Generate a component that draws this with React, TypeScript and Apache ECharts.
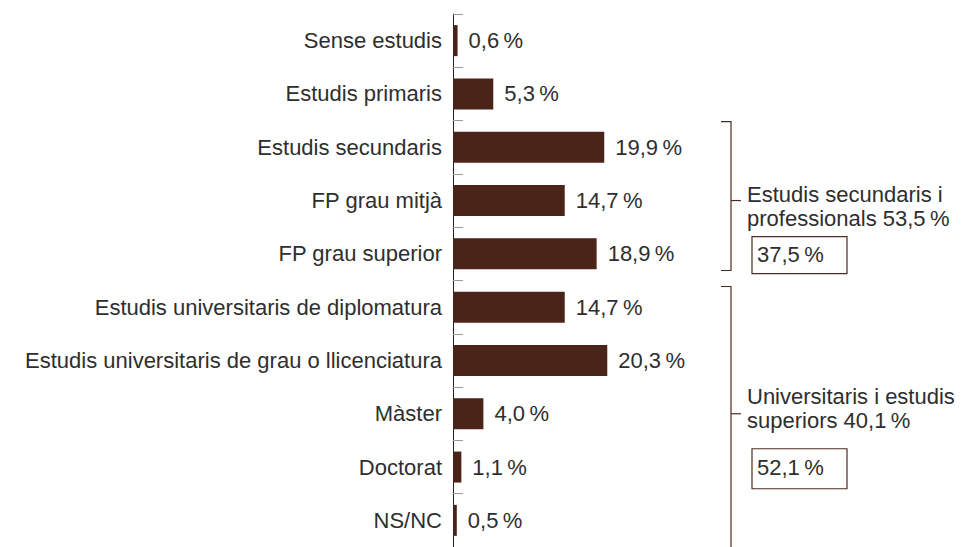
import React, { useEffect, useRef } from "react";
import * as echarts from "echarts";

const categories = [
  "Sense estudis",
  "Estudis primaris",
  "Estudis secundaris",
  "FP grau mitjà",
  "FP grau superior",
  "Estudis universitaris de diplomatura",
  "Estudis universitaris de grau o llicenciatura",
  "Màster",
  "Doctorat",
  "NS/NC",
];
const values = [0.6, 5.3, 19.9, 14.7, 18.9, 14.7, 20.3, 4.0, 1.1, 0.5];

const groupFirst = [2, 5];
const groupLast = [4, 9];
const groupMid = [3, 7];
const groupLine1 = ["Estudis secundaris i", "Universitaris i estudis"];
const groupLine2 = ["professionals 53,5\u2009%", "superiors 40,1\u2009%"];
const groupBox = ["37,5\u2009%", "52,1\u2009%"];

const FONT = "'Liberation Sans', Arial, Helvetica, sans-serif";
const FS = 22;
const TEXT = "#2e2e2e";
const BAR = "#4a2418";
const BRACKET = "#4f2c22";

const fmt = (v: number) => v.toFixed(1).replace(".", ",") + "\u2009%";

export default function App() {
  const ref = useRef<HTMLDivElement>(null);
  useEffect(() => {
    document.body.style.margin = "0";
    const chart = echarts.init(ref.current!, null, { renderer: "svg" });
    chart.setOption({
      animation: false,
      grid: { left: 453, top: 14, bottom: 0, width: 380 },
      xAxis: { type: "value", min: 0, max: 50, show: false },
      yAxis: {
        type: "category",
        data: categories,
        inverse: true,
        axisLine: { show: true, lineStyle: { color: "#222", width: 1 } },
        axisTick: { show: true, inside: true, length: 10, lineStyle: { color: "#999" } },
        axisLabel: { margin: 11, color: TEXT, fontSize: FS, fontFamily: FONT },
      },
      series: [
        {
          type: "bar",
          data: values,
          barWidth: 31,
          itemStyle: { color: BAR },
          label: {
            show: true,
            position: "right",
            distance: 11,
            color: TEXT,
            fontSize: FS,
            fontFamily: FONT,
            formatter: (p: any) => fmt(p.value),
          },
        },
      ],
    });

    const cy = (i: number) => chart.convertToPixel({ yAxisIndex: 0 }, i) as number;
    const band = cy(1) - cy(0);
    const topPad = [1, 6];
    const botPad = [-10, 10];
    const l1Off = [-6.5, -17.5];
    const l2Off = [18, 7];
    const boxTop = [36, 35];
    const boxH = [37, 40];
    const graphics: any[] = [
      {
        type: "line",
        shape: { x1: 453, y1: 14.5, x2: 463, y2: 14.5 },
        style: { stroke: "#222", lineWidth: 1 },
      },
    ];
    for (let g = 0; g < groupFirst.length; g++) {
      const top = cy(groupFirst[g]) - band / 2 + topPad[g];
      const bot = cy(groupLast[g]) + band / 2 + botPad[g];
      const mid = cy(groupMid[g]);
      graphics.push({
        type: "polyline",
        shape: { points: [[721, top], [731, top], [731, bot], [721, bot]] },
        style: { stroke: BRACKET, lineWidth: 1.2, fill: null },
      });
      graphics.push({
        type: "line",
        shape: { x1: 731, y1: mid, x2: 741, y2: mid },
        style: { stroke: BRACKET, lineWidth: 1.2 },
      });
      graphics.push({
        type: "text",
        x: 747,
        y: mid + l1Off[g],
        style: { text: groupLine1[g], fill: TEXT, font: `${FS}px ${FONT}`, verticalAlign: "middle" },
      });
      graphics.push({
        type: "text",
        x: 747,
        y: mid + l2Off[g],
        style: { text: groupLine2[g], fill: TEXT, font: `${FS}px ${FONT}`, verticalAlign: "middle" },
      });
      graphics.push({
        type: "rect",
        shape: { x: 752, y: mid + boxTop[g], width: 95, height: boxH[g] },
        style: { stroke: BRACKET, lineWidth: 1.2, fill: "#fff" },
      });
      graphics.push({
        type: "text",
        x: 757,
        y: mid + boxTop[g] + boxH[g] / 2 - 1,
        style: { text: groupBox[g], fill: TEXT, font: `${FS}px ${FONT}`, verticalAlign: "middle" },
      });
    }
    chart.setOption({ graphic: graphics });
    return () => chart.dispose();
  }, []);
  return <div ref={ref} style={{ width: 971, height: 547 }} />;
}
